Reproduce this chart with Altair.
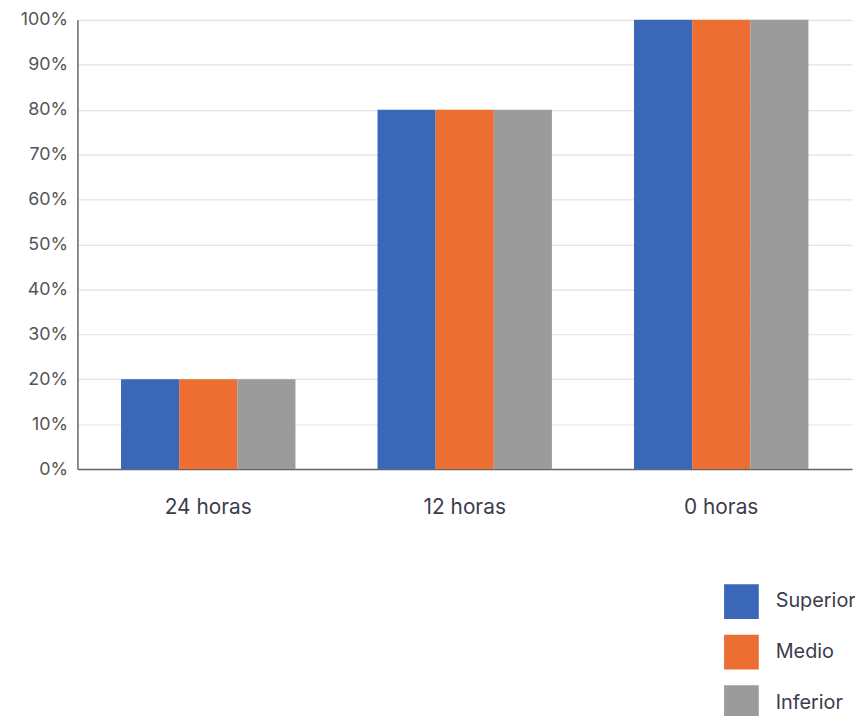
import altair as alt
import pandas as pd

categories = ["24 horas", "12 horas", "0 horas"]
series = ["Superior", "Medio", "Inferior"]
values = {
    "Superior": [0.20, 0.80, 1.00],
    "Medio": [0.20, 0.80, 1.00],
    "Inferior": [0.20, 0.80, 1.00],
}
colors = ["#3a67b8", "#ec6e33", "#9b9b9b"]
y_ticks = [i / 10 for i in range(11)]

rows = []
for s in series:
    for c, v in zip(categories, values[s]):
        rows.append({"cat": c, "serie": s, "val": v})
df = pd.DataFrame(rows)

font = "Inter"

chart = alt.Chart(df).mark_bar(strokeWidth=0).encode(
    x=alt.X("cat:N", sort=categories, title=None,
            scale=alt.Scale(paddingInner=0.32, paddingOuter=0.17),
            axis=alt.Axis(labelAngle=0, labelFontSize=21, labelColor="#3c3c4c",
                          labelPadding=28, ticks=False, domainColor="#666666",
                          domainWidth=1.5, labelFont=font)),
    xOffset=alt.XOffset("serie:N", sort=series),
    y=alt.Y("val:Q", title=None,
            scale=alt.Scale(domain=[0, 1], nice=False),
            axis=alt.Axis(values=y_ticks, format=".0%", labelFontSize=18,
                          labelColor="#555555", labelPadding=10, ticks=False,
                          domainColor="#666666", domainWidth=1.5,
                          gridColor="#e3e3e3", gridWidth=1.2, labelFont=font)),
    color=alt.Color("serie:N", sort=series,
                    scale=alt.Scale(domain=series, range=colors),
                    legend=alt.Legend(title=None, orient="none", legendX=652, legendY=569,
                                      symbolType="square", symbolSize=1225,
                                      symbolStrokeWidth=0, symbolOpacity=1,
                                      labelFontSize=20, labelColor="#3c3c4c",
                                      labelFont=font, labelOffset=17,
                                      rowPadding=16, padding=0)),
).properties(
    width=781, height=453,
    autosize=alt.AutoSizeParams(type="none"),
    padding={"left": 70, "top": 9, "right": 3, "bottom": 246},
).configure_view(stroke=None)

chart.save("out.html", embed_options={"renderer": "svg", "actions": False})
